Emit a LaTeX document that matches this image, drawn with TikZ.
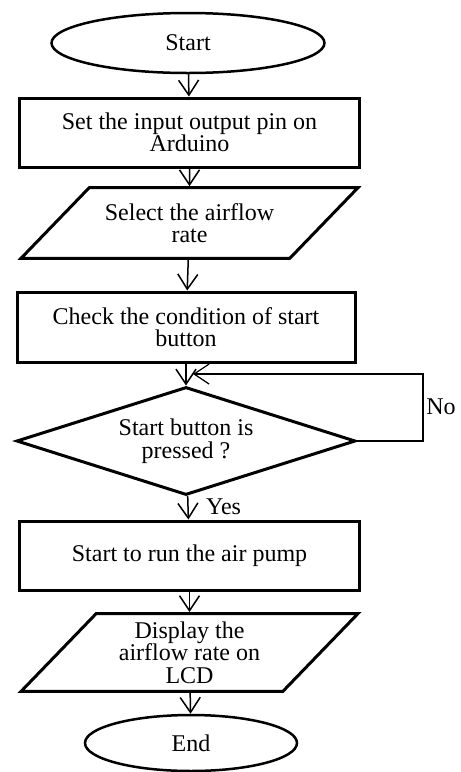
\documentclass[tikz,border=0pt]{standalone}
\usepackage{fontspec}
\setmainfont{Liberation Serif}
\usetikzlibrary{shapes.geometric, arrows.meta}

\begin{document}
\begin{tikzpicture}[x=1pt, y=-1pt,
    every node/.style={font=\fontsize{24}{22.5}\selectfont, align=center},
    terminal/.style={ellipse, draw, line width=2.5pt, inner sep=0pt},
    process/.style={rectangle, draw, line width=3pt, minimum width=340pt, minimum height=69pt},
    io/.style={trapezium, draw, line width=3pt, trapezium left angle=46, trapezium right angle=134,
        trapezium stretches body, minimum width=337pt, inner xsep=0pt},
    decision/.style={diamond, draw, line width=3pt, aspect=3.14, minimum width=339pt,
        minimum height=108pt, inner sep=0pt},
    flow/.style={-{Straight Barb[length=15pt, width=20pt]}, line width=1.5pt}]
    \useasboundingbox (0,0) rectangle (461,772);

    \node[terminal, minimum width=273pt, minimum height=60pt] (start) at (188,43) {Start};
    \node[process] (setpin) at (189.5,132.5) {Set the input output pin on\\Arduino};
    \node[io, inner ysep=15.5pt] (rate) at (189.5,223) {Select the airflow\\rate};
    \node[process, minimum width=338pt, minimum height=70pt] (check) at (186,327) {Check the condition of start\\button};
    \node[decision] (pressed) at (186,441) {Start button is\\pressed ?};
    \node[process] (pump) at (189.5,555.5) {Start to run the air pump};
    \node[io, inner ysep=8pt] (lcd) at (189.5,652.5) {Display the\\airflow rate on\\LCD};
    \node[terminal, minimum width=212pt, minimum height=56pt] (stop) at (191,743) {End};

    \draw[flow] (start) -- (setpin);
    \draw[flow] (setpin) -- (rate);
    \draw[flow] (rate) -- (check);
    \draw[flow] (check) -- (pressed);
    \draw[flow] (pressed) -- (pump) node[pos=0.45, right=14pt] (yes) {Yes};
    \draw[flow] (pump) -- (lcd);
    \draw[flow] (lcd) -- (stop);

    \coordinate (join) at (193,374);
    \draw[flow, line width=1.2pt] (pressed.east) -- ++(66,0) coordinate (corner) |- (join);
    \node (no) at (441,407) {No};
\end{tikzpicture}
\end{document}
